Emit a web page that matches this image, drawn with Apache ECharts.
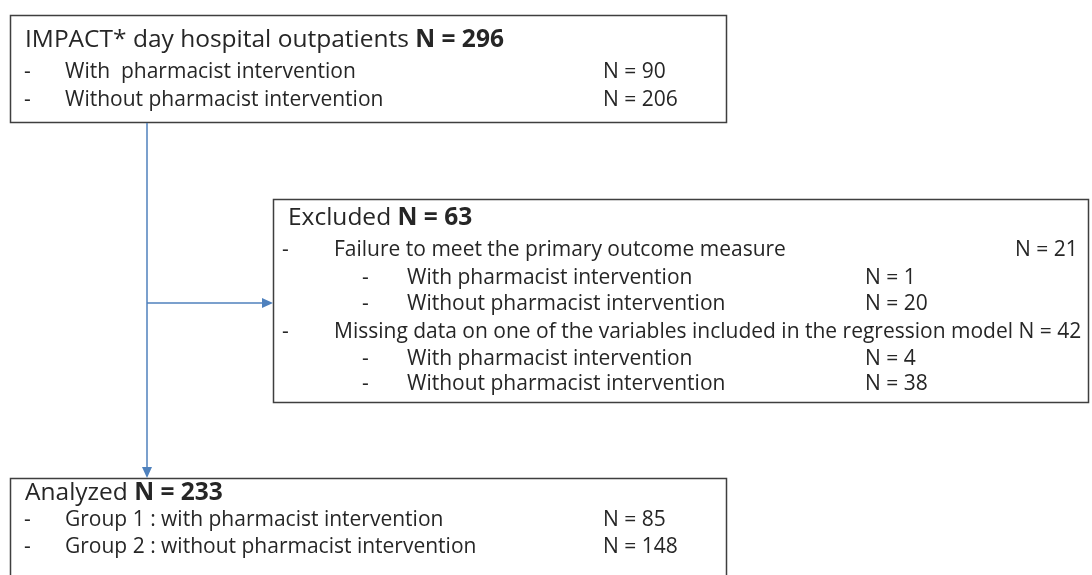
<!DOCTYPE html>
<html>
<head>
<meta charset="utf-8">
<script src="https://cdn.jsdelivr.net/npm/echarts@6/dist/echarts.min.js"></script>
<style>html,body{margin:0;padding:0;background:#fff}#c{width:1092px;height:575px}</style>
</head>
<body>
<div id="c"></div>
<script>
// ---- data ----
const boxTitles = ['IMPACT* day hospital outpatients', 'Excluded', 'Analyzed'];
const boxTotals = [296, 63, 233];
const enrolledLabels = ['With  pharmacist intervention', 'Without pharmacist intervention'];
const enrolledN = [90, 206];
const excludedReasons = ['Failure to meet the primary outcome measure', 'Missing data on one of the variables included in the regression model'];
const excludedReasonN = [21, 42];
const excludedSubLabels = ['With pharmacist intervention', 'Without pharmacist intervention'];
const excludedSubN = [[1, 20], [4, 38]];
const analyzedLabels = ['Group 1 : with pharmacist intervention', 'Group 2 : without pharmacist intervention'];
const analyzedN = [85, 148];

// ---- layout / style ----
const FONT = '"Open Sans", "Noto Sans", sans-serif';
const TXT = '#262626';
const BORDER = '#3f3f3f';
const ARROW = '#4f81bd';
const TITLE_FS = 24.5, BODY_FS = 21;

const L = {
  box1: {x: 10, y: 15, w: 716, h: 107},
  box2: {x: 273, y: 199, w: 815, h: 203},
  box3: {x: 10, y: 478, w: 716, h: 140},
  title1Y: 40, rows1Y: [72, 100],
  title2Y: 218, rows2Y: [[250, 278, 304], [332, 359, 384]],
  title3Y: 493, rows3Y: [520, 547],
  dashX1: 24, textX1: 65, nX1: 603,
  dashX2: 282, textX2: 334, subDashX2: 362, subTextX2: 407, nX2: 1015, subNX2: 865,
  vLineX: 147, hLineY: 303
};

function rect(b) {
  return {type: 'rect', shape: {x: b.x + 0.5, y: b.y + 0.5, width: b.w, height: b.h},
    style: {fill: '#fff', stroke: BORDER, lineWidth: 1.5}, z: 1};
}
function text(x, y, s, fs, extra) {
  return Object.assign({type: 'text', x: x, y: y, z: 5,
    style: {text: s, fontSize: fs, fontFamily: FONT, fill: TXT, verticalAlign: 'middle'}}, extra || {});
}
function title(x, y, label, n) {
  return {type: 'text', x: x, y: y, z: 5, style: {
    text: '{n|' + label + ' }{b|N = ' + n + '}', verticalAlign: 'middle',
    rich: {
      n: {fontSize: TITLE_FS, fontFamily: FONT, fill: TXT},
      b: {fontSize: TITLE_FS, fontFamily: FONT, fill: TXT, fontWeight: 'bold'}
    }}};
}
const nStr = v => 'N = ' + v;

const els = [];
els.push(rect(L.box1), rect(L.box2), rect(L.box3));

// box 1
els.push(title(L.textX1 - 40, L.title1Y, boxTitles[0], boxTotals[0]));
enrolledLabels.forEach((lab, i) => {
  els.push(text(L.dashX1, L.rows1Y[i], '-', BODY_FS));
  els.push(text(L.textX1, L.rows1Y[i], lab, BODY_FS));
  els.push(text(L.nX1, L.rows1Y[i], nStr(enrolledN[i]), BODY_FS));
});

// box 2
els.push(title(L.textX2 - 46, L.title2Y, boxTitles[1], boxTotals[1]));
excludedReasons.forEach((lab, i) => {
  const ys = L.rows2Y[i];
  els.push(text(L.dashX2, ys[0], '-', BODY_FS));
  if (i === 0) {
    els.push(text(L.textX2, ys[0], lab, BODY_FS));
    els.push(text(L.nX2, ys[0], nStr(excludedReasonN[i]), BODY_FS));
  } else {
    els.push(text(L.textX2, ys[0], lab + ' ' + nStr(excludedReasonN[i]), BODY_FS));
  }
  excludedSubLabels.forEach((sl, j) => {
    els.push(text(L.subDashX2, ys[j + 1], '-', BODY_FS));
    els.push(text(L.subTextX2, ys[j + 1], sl, BODY_FS));
    els.push(text(L.subNX2, ys[j + 1], nStr(excludedSubN[i][j]), BODY_FS));
  });
});

// box 3
els.push(title(L.textX1 - 40, L.title3Y, boxTitles[2], boxTotals[2]));
analyzedLabels.forEach((lab, i) => {
  els.push(text(L.dashX1, L.rows3Y[i], '-', BODY_FS));
  els.push(text(L.textX1, L.rows3Y[i], lab, BODY_FS));
  els.push(text(L.nX1, L.rows3Y[i], nStr(analyzedN[i]), BODY_FS));
});

// arrows
const yStart = L.box1.y + L.box1.h + 1, yEnd = L.box3.y;
els.push({type: 'line', shape: {x1: L.vLineX, y1: yStart, x2: L.vLineX, y2: yEnd - 9},
  style: {stroke: ARROW, lineWidth: 1.5}, z: 2});
els.push({type: 'polygon', shape: {points: [[L.vLineX - 5, yEnd - 11], [L.vLineX + 5, yEnd - 11], [L.vLineX, yEnd]]},
  style: {fill: ARROW}, z: 2});
els.push({type: 'line', shape: {x1: L.vLineX, y1: L.hLineY, x2: L.box2.x - 9, y2: L.hLineY},
  style: {stroke: ARROW, lineWidth: 1.5}, z: 2});
els.push({type: 'polygon', shape: {points: [[L.box2.x - 11, L.hLineY - 5], [L.box2.x - 11, L.hLineY + 5], [L.box2.x, L.hLineY]]},
  style: {fill: ARROW}, z: 2});

const chart = echarts.init(document.getElementById('c'), null, {renderer: 'canvas'});
chart.setOption({backgroundColor: '#fff', animation: false, graphic: {elements: els}});
</script>
</body>
</html>
